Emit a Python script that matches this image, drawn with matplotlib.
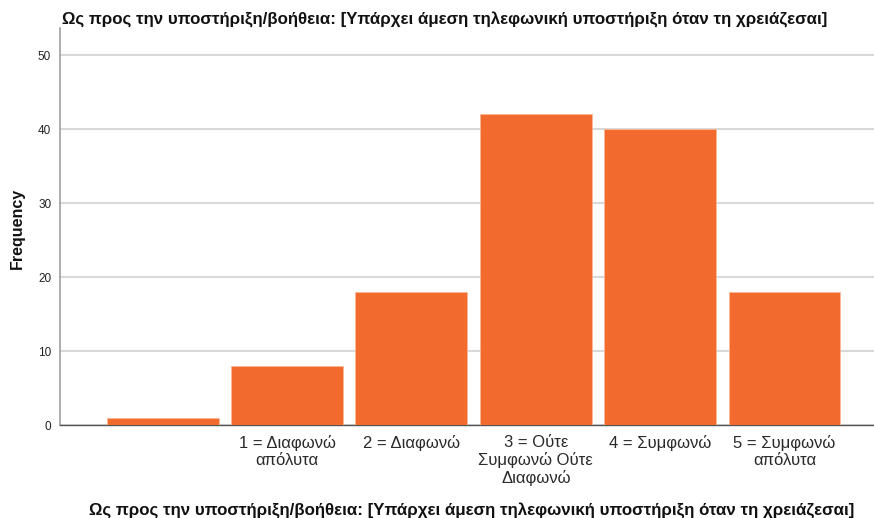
import matplotlib
matplotlib.use("Agg")
import matplotlib.pyplot as plt

categories = ["", "1 = Διαφωνώ\nαπόλυτα", "2 = Διαφωνώ", "3 = Ούτε\nΣυμφωνώ Ούτε\nΔιαφωνώ",
              "4 = Συμφωνώ", "5 = Συμφωνώ\nαπόλυτα"]
frequencies = [1, 8, 18, 42, 40, 18]
yticks = [0, 10, 20, 30, 40, 50]
title_text = "Ως προς την υποστήριξη/βοήθεια: [Υπάρχει άμεση τηλεφωνική υποστήριξη όταν τη χρειάζεσαι]"

plt.rcParams['font.family'] = ['Liberation Sans', 'DejaVu Sans']

fig = plt.figure(figsize=(8.74, 5.18), dpi=100)
W, H = 874, 518
left, right, top, bottom = 59.5, 874, 28, 425
ax = fig.add_axes([left / W, 1 - bottom / H, (right - left) / W, (bottom - top) / H])

x = list(range(len(categories)))
ax.bar(x, frequencies, width=0.9, color="#F26A2D", edgecolor="#F9B795", linewidth=0.6, zorder=3)

ax.set_xlim(-0.83, 5.72)
ax.set_ylim(0, 53.7)
ax.set_yticks(yticks)
ax.set_xticks(x)
ax.set_xticklabels(categories, fontsize=12, color="#2A2A2A", linespacing=1.17)
ax.tick_params(axis="both", length=0)
ax.tick_params(axis="y", labelsize=8.5, colors="#222222", pad=6)
ax.tick_params(axis="x", pad=7)

ax.grid(axis="y", color="#D9D9D9", linewidth=1.5, zorder=0)
ax.set_axisbelow(True)
for s in ["top", "right"]:
    ax.spines[s].set_visible(False)
ax.spines["left"].set_color("#A0A0A0")
ax.spines["left"].set_linewidth(1.2)
ax.spines["bottom"].set_color("#555555")
ax.spines["bottom"].set_linewidth(1.0)

fig.text(17 / W, 1 - 228 / H, "Frequency", fontsize=11.5, fontweight="bold", rotation=90,
         ha="center", va="center", color="#111111")

fig.text(62 / W, 1 - 20 / H, title_text, fontsize=12.2, fontweight="bold", ha="left", va="center", color="#111111")
fig.text(472 / W, 1 - 511 / H, title_text, fontsize=12.2, fontweight="bold", ha="center", va="center", color="#111111")

fig.savefig("out.png", dpi=100)
